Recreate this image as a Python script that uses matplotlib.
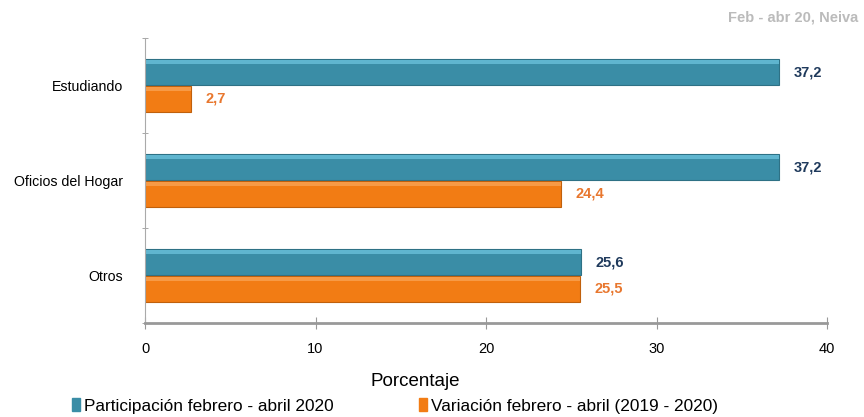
import matplotlib.pyplot as plt
import numpy as np

categorias = ['Estudiando', 'Oficios del Hogar', 'Otros']
participacion = [37.2, 37.2, 25.6]
variacion = [2.7, 24.4, 25.5]
etiquetas_part = ['37,2', '37,2', '25,6']
etiquetas_var = ['2,7', '24,4', '25,5']

plt.rcParams['font.family'] = ['Liberation Sans', 'DejaVu Sans']

teal = '#3a8da6'
teal_light = '#5fb5cf'
orange = '#f27c14'
orange_light = '#f79a45'

fig = plt.figure(figsize=(8.64, 4.17), dpi=100)
ax = fig.add_axes([145 / 864, 1 - 323 / 417, (827 - 145) / 864, (323 - 38) / 417])

y = np.arange(len(categorias))
h = 0.27
off = 0.142

ax.barh(y - off, participacion, height=h, color=teal, edgecolor='#2e7185', linewidth=0.8)
ax.barh(y - off - h * 0.38, participacion, height=h * 0.14, color=teal_light, linewidth=0)
ax.barh(y + off, variacion, height=h, color=orange, edgecolor='#c0600c', linewidth=0.8)
ax.barh(y + off - h * 0.38, variacion, height=h * 0.14, color=orange_light, linewidth=0)

for yi, v, t in zip(y, participacion, etiquetas_part):
    ax.text(v + 0.85, yi - off, t, va='center', ha='left', fontsize=10.5,
            fontweight='bold', color='#1f3a5c')
for yi, v, t in zip(y, variacion, etiquetas_var):
    ax.text(v + 0.85, yi + off, t, va='center', ha='left', fontsize=10.5,
            fontweight='bold', color='#e8772e')

ax.set_xlim(0, 40)
ax.set_ylim(2.458, -0.473)
ax.set_xticks([0, 10, 20, 30, 40])
ax.set_xticklabels(['0', '10', '20', '30', '40'], fontsize=10.5)
ax.set_yticks(y)
ax.set_yticklabels(categorias, fontsize=10.2)
ax.set_yticks(np.arange(len(categorias) + 1) - 0.5, minor=True)
ax.tick_params(axis='y', which='major', length=0, pad=16)
ax.tick_params(axis='y', which='minor', length=5, color='#999999', direction='inout')
ax.tick_params(axis='x', length=8, color='#999999', direction='inout', pad=10)

for s in ['top', 'right']:
    ax.spines[s].set_visible(False)
ax.spines['left'].set_color('#aaaaaa')
ax.spines['bottom'].set_color('#999999')
ax.spines['bottom'].set_linewidth(2)

fig.text(415 / 864, 1 - 381 / 417, 'Porcentaje', ha='center', va='center', fontsize=13.5)
fig.text(858 / 864, 1 - 17 / 417, 'Feb - abr 20, Neiva', ha='right', va='center',
         fontsize=10.5, fontweight='bold', color='#bbbbbb')

handles = [plt.Rectangle((0, 0), 1, 1, color=teal), plt.Rectangle((0, 0), 1, 1, color=orange)]
fig.legend(handles, ['Participación febrero - abril 2020', 'Variación febrero - abril (2019 - 2020)'],
           loc='center', bbox_to_anchor=(395 / 864, 1 - 406 / 417), ncol=2, frameon=False,
           fontsize=12.4, handlelength=0.45, handleheight=0.8, handletextpad=0.2, columnspacing=5)

fig.savefig('out.png', dpi=100)
